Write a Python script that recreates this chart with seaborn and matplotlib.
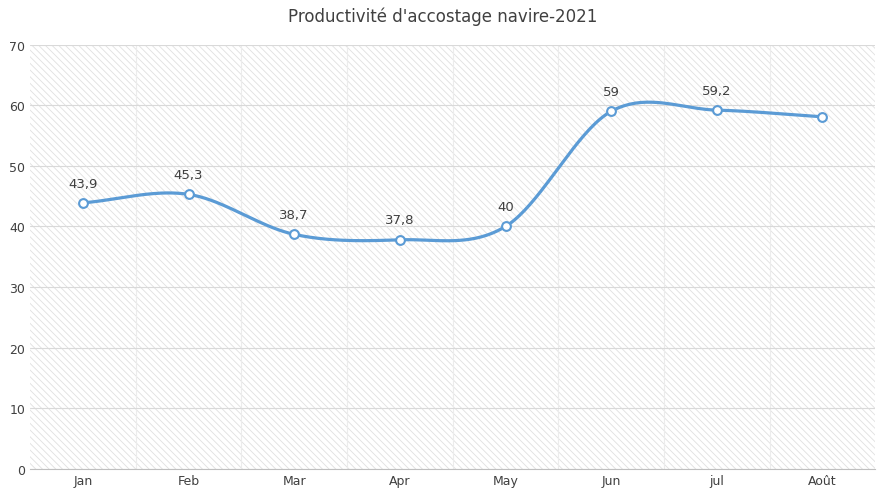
import matplotlib
matplotlib.use("Agg")
import matplotlib.pyplot as plt
from matplotlib.patches import Rectangle
import seaborn as sns
import numpy as np
import pandas as pd

months = ["Jan", "Feb", "Mar", "Apr", "May", "Jun", "jul", "Août"]
values = [43.9, 45.3, 38.7, 37.8, 40.0, 59.0, 59.2, 58.1]
labels = ["43,9", "45,3", "38,7", "37,8", "40", "59", "59,2", ""]

sns.set_style("white")
plt.rcParams["hatch.color"] = "#e0e0e0"
plt.rcParams["hatch.linewidth"] = 0.6
fig = plt.figure(figsize=(8.85, 5.02), dpi=100)
ax = fig.add_axes([0.034, 0.064, 0.955, 0.845])
bg = Rectangle((0, 0), 1, 1, transform=ax.transAxes, facecolor="white",
               edgecolor="#e0e0e0", lw=0, hatch="\\\\\\\\\\", zorder=0)
ax.add_patch(bg)

# Catmull-Rom smoothing (Excel-like)
x = np.arange(len(values), dtype=float)
y = np.array(values)
px = np.concatenate([[2*x[0]-x[1]], x, [2*x[-1]-x[-2]]])
py = np.concatenate([[2*y[0]-y[1]], y, [2*y[-1]-y[-2]]])
sx, sy = [], []
t = np.linspace(0, 1, 40)
for i in range(1, len(px)-2):
    for arr, out in ((px, sx), (py, sy)):
        p0, p1, p2, p3 = arr[i-1], arr[i], arr[i+1], arr[i+2]
        out.extend(0.5*((2*p1) + (-p0+p2)*t + (2*p0-5*p1+4*p2-p3)*t**2 + (-p0+3*p1-3*p2+p3)*t**3))
ax.plot(sx, sy, color="#5b9bd5", lw=2.3, zorder=3)

df = pd.DataFrame({"x": x, "y": y})
sns.scatterplot(data=df, x="x", y="y", ax=ax, s=40, color="white",
                edgecolor="#5b9bd5", linewidth=1.5, zorder=4)
for xi, yi, lb in zip(x, y, labels):
    if lb:
        ax.text(xi, yi + 2.2, lb, ha="center", va="bottom", fontsize=9.5, color="#404040")

ax.set_xlim(-0.5, len(values) - 0.5)
ax.set_ylim(0, 70)
ax.set_yticks(range(0, 71, 10))
ax.set_xticks(x)
ax.set_xticklabels(months)
ax.set_xticks(np.arange(0.5, len(values) - 0.5), minor=True)
ax.grid(axis="y", color="#d9d9d9", lw=0.8, zorder=1)
ax.grid(axis="x", which="minor", color="#ececec", lw=0.8, zorder=1)
ax.set_axisbelow(True)
ax.tick_params(axis="both", length=0, labelsize=9, colors="#404040")
ax.set_xlabel(""); ax.set_ylabel("")
for s in ["top", "right", "left"]:
    ax.spines[s].set_visible(False)
ax.spines["bottom"].set_color("#bfbfbf")
fig.suptitle("Productivité d'accostage navire-2021", y=0.985, fontsize=12, color="#404040")
fig.savefig("out.png", dpi=100)
